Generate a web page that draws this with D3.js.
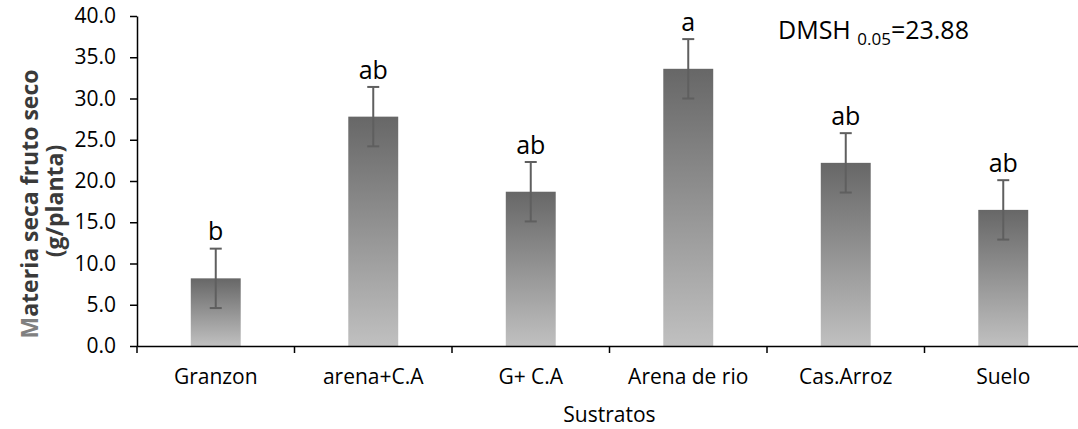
<!DOCTYPE html>
<html>
<head>
<meta charset="utf-8">
<script src="https://cdn.jsdelivr.net/npm/d3@7"></script>
<style>
  html, body { margin: 0; padding: 0; background: #fff; }
  svg { display: block; font-family: "Open Sans", sans-serif; }
</style>
</head>
<body>
<svg id="chart" width="1078" height="429"></svg>
<script>
// Substrate categories and dry-matter means (g/plant) with their error terms
const categories = ["Granzon", "arena+C.A", "G+ C.A", "Arena de rio", "Cas.Arroz", "Suelo"];
const means = [8.2, 27.8, 18.7, 33.6, 22.2, 16.5];
const errors = [3.6, 3.6, 3.6, 3.6, 3.6, 3.6];
const groups = ["b", "ab", "ab", "a", "ab", "ab"];
const yTicks = [0, 5, 10, 15, 20, 25, 30, 35, 40];

const svg = d3.select("#chart");
const plotLeft = 137, plotRight = 1082, plotTop = 16, plotBottom = 346;

const y = d3.scaleLinear().domain([0, 40]).range([plotBottom, plotTop]);
const x = d3.scaleBand().domain(categories).range([plotLeft, plotRight])
  .paddingInner(0.683).paddingOuter(0.3415);

// Vertical gradient used by every bar
const grad = svg.append("defs").append("linearGradient")
  .attr("id", "barFill").attr("x1", 0).attr("y1", 0).attr("x2", 0).attr("y2", 1);
grad.append("stop").attr("offset", "0%").attr("stop-color", "#676767");
grad.append("stop").attr("offset", "100%").attr("stop-color", "#c0c0c0");

const data = categories.map((c, i) => ({ c, v: means[i], e: errors[i], g: groups[i] }));

// Bars
svg.append("g").selectAll("rect").data(data).join("rect")
  .attr("x", d => x(d.c))
  .attr("y", d => y(d.v))
  .attr("width", x.bandwidth())
  .attr("height", d => y(0) - y(d.v))
  .attr("fill", "url(#barFill)");

// Error bars
const eb = svg.append("g").attr("stroke", "#5f5f5f").attr("stroke-width", 2);
data.forEach(d => {
  const cx = x(d.c) + x.bandwidth() / 2;
  const y1 = y(d.v + d.e), y2 = y(d.v - d.e);
  eb.append("line").attr("x1", cx).attr("x2", cx).attr("y1", y1).attr("y2", y2);
  eb.append("line").attr("x1", cx - 6).attr("x2", cx + 6).attr("y1", y1).attr("y2", y1);
  eb.append("line").attr("x1", cx - 6).attr("x2", cx + 6).attr("y1", y2).attr("y2", y2);
});

// Significance letters above the bars
svg.append("g").selectAll("text").data(data).join("text")
  .attr("x", d => x(d.c) + x.bandwidth() / 2)
  .attr("y", d => y(d.v) - 38)
  .attr("text-anchor", "middle")
  .attr("font-size", 25)
  .attr("fill", "#000")
  .text(d => d.g);

// Y axis
const yAxis = svg.append("g").attr("transform", `translate(${plotLeft},0)`)
  .call(d3.axisLeft(y).tickValues(yTicks).tickFormat(d3.format(".1f")).tickSize(7).tickSizeOuter(0).tickPadding(14));
yAxis.select(".domain").attr("stroke", "#000").attr("stroke-width", 1.5);
yAxis.selectAll(".tick line").attr("stroke", "#000").attr("stroke-width", 1.5);
yAxis.selectAll(".tick text").attr("font-size", 21).attr("font-family", "Open Sans").attr("fill", "#000");

// X axis: baseline, category boundary ticks and labels
const xAxis = svg.append("g").attr("transform", `translate(0,${plotBottom})`)
  .call(d3.axisBottom(x).tickSize(0).tickPadding(23).tickSizeOuter(0));
xAxis.select(".domain").attr("stroke", "#000").attr("stroke-width", 1.5);
xAxis.selectAll(".tick text").attr("font-size", 21).attr("font-family", "Open Sans").attr("fill", "#000");
const bounds = categories.map(c => x(c) + x.bandwidth() / 2 - x.step() / 2);
xAxis.append("g").selectAll("line").data(bounds).join("line")
  .attr("x1", d => d).attr("x2", d => d).attr("y1", 0).attr("y2", 7)
  .attr("stroke", "#000").attr("stroke-width", 1.5);

// Axis titles
svg.append("text")
  .attr("x", (plotLeft + plotRight) / 2).attr("y", 422)
  .attr("text-anchor", "middle").attr("font-size", 21).attr("fill", "#000")
  .text("Sustratos");

const yt = svg.append("text")
  .attr("transform", `translate(38,204) rotate(-90)`)
  .attr("text-anchor", "middle").attr("font-size", 23).attr("font-weight", "bold").attr("fill", "#3a3a3a");
yt.append("tspan").attr("fill", "#808080").text("M");
yt.append("tspan").text("ateria seca fruto seco");
svg.append("text")
  .attr("transform", `translate(63,201) rotate(-90)`)
  .attr("text-anchor", "middle").attr("font-size", 23).attr("font-weight", "bold").attr("fill", "#3a3a3a")
  .text("(g/planta)");

// Honestly significant difference annotation
const dm = svg.append("text").attr("x", 778).attr("y", 39).attr("font-size", 25).attr("fill", "#000");
dm.append("tspan").text("DMSH ");
dm.append("tspan").attr("font-size", 17).attr("dy", 6).text("0.05");
dm.append("tspan").attr("dy", -6).text("=23.88");
</script>
</body>
</html>
